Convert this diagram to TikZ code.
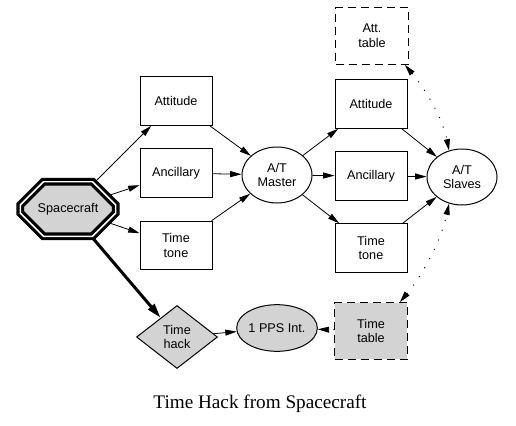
\documentclass[tikz,border=0pt]{standalone}
\usepackage{fontspec}
\setmainfont{Liberation Serif}
\newfontfamily\arialfont{Liberation Sans}
\usetikzlibrary{shapes.geometric,shapes.misc,arrows.meta}
\definecolor{fillgray}{RGB}{211,211,211}
\begin{document}
\begin{tikzpicture}[x=0.75pt,y=-0.75pt,
  every node/.style={font=\arialfont\fontsize{9.5}{11}\selectfont, align=center, inner sep=0pt},
  box/.style={draw, line width=0.75pt, minimum width=54pt, minimum height=36.5pt},
  dbox/.style={draw, line width=0.75pt, dash pattern=on 6pt off 3.75pt, minimum width=54.5pt, minimum height=42.5pt},
  oval/.style={draw, ellipse, line width=0.75pt, minimum width=52.5pt, minimum height=42pt},
  octo/.style={chamfered rectangle, chamfered rectangle xsep=14pt, chamfered rectangle ysep=13pt,
    minimum width=71.6pt, minimum height=40.9pt, fill=fillgray, draw, line width=2.4pt,
    double=white, double distance=1.1pt},
  dia/.style={diamond, draw, line width=0.75pt, fill=fillgray, minimum width=60.75pt, minimum height=47.25pt},
  arr/.style={-{Triangle[length=8.5pt,width=4.5pt]}, line width=0.6pt},
  thickarr/.style={-{Triangle[length=11pt,width=6pt]}, line width=2.25pt},
  dots/.style={line width=0.75pt, dash pattern=on 0.75pt off 7pt},
  dtip/.style={{Triangle[length=8.5pt,width=4.5pt]}-{Triangle[length=8.5pt,width=4.5pt]}}
]
\useasboundingbox (0,0) rectangle (516,425);

\node[octo] (sc) at (68,209) {Spacecraft};

\node[box] (attL) at (176,101) {Attitude};
\node[box] (ancL) at (176,173) {Ancillary};
\node[box] (ttL) at (176,245.5) {Time\\tone};

\node[oval] (master) at (277,175) {A/T\\Master};

\node[box] (attR) at (371,104) {Attitude};
\node[box] (ancR) at (371,176) {Ancillary};
\node[box] (ttR) at (371,248) {Time\\tone};

\node[oval] (slaves) at (462,177) {A/T\\Slaves};

\node[dbox] (atttab) at (372,36) {Att.\\table};

\node[dia] (hack) at (177,337) {Time\\hack};
\node[oval, fill=fillgray, minimum width=59pt, minimum height=35pt] (pps) at (277,328) {1 PPS Int.};
\node[dbox, fill=fillgray] (timetab) at (371,331) {Time\\table};

\node[font=\rmfamily\fontsize{14.4}{17}\selectfont, anchor=base] (cap) at (260,408) {Time Hack from Spacecraft};

\draw[arr] (sc) -- (attL);
\draw[arr] (sc) -- (ancL);
\draw[arr] (sc) -- (ttL);
\draw[thickarr] (sc) -- (hack);

\draw[arr] (attL) -- (master);
\draw[arr] (ancL) -- (master);
\draw[arr] (ttL) -- (master);

\draw[arr] (master) -- (attR);
\draw[arr] (master) -- (ancR);
\draw[arr] (master) -- (ttR);

\draw[arr] (attR) -- (slaves);
\draw[arr] (ancR) -- (slaves);
\draw[arr] (ttR) -- (slaves);

\draw[arr] (hack) -- (pps);
\draw[dots, arr] (timetab) -- (pps);

\draw[dots, dtip] ([xshift=-3pt]atttab.south east) .. controls (422,85) and (442,115) .. (slaves.116);
\draw[dots, dtip] ([xshift=-6pt]timetab.north east) .. controls (420,278) and (440,245) .. (slaves.-116);
\end{tikzpicture}
\end{document}
